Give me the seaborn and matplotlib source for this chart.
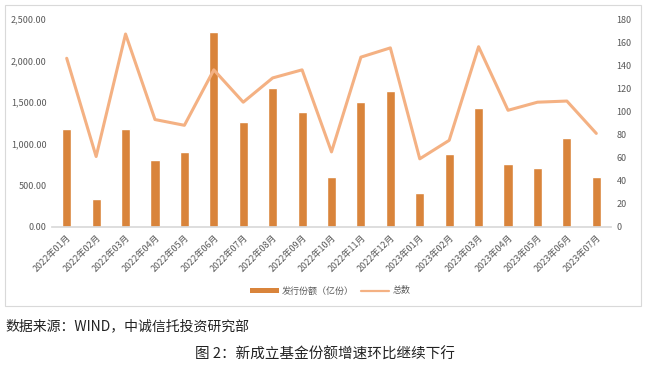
import numpy as np
import pandas as pd
import matplotlib
matplotlib.use("Agg")
import matplotlib.pyplot as plt
import seaborn as sns
from matplotlib.patches import Rectangle, Patch
from matplotlib.lines import Line2D

months = ["2022年01月", "2022年02月", "2022年03月", "2022年04月", "2022年05月",
          "2022年06月", "2022年07月", "2022年08月", "2022年09月", "2022年10月",
          "2022年11月", "2022年12月", "2023年01月", "2023年02月", "2023年03月",
          "2023年04月", "2023年05月", "2023年06月", "2023年07月"]
shares = [1178, 331, 1176, 804, 907, 2344, 1260, 1676, 1388, 604,
          1500, 1640, 408, 880, 1436, 760, 715, 1072, 604]
counts = [146, 61, 167, 93, 88, 136, 108, 129, 136, 65,
          147, 155, 59, 75, 156, 101, 108, 109, 81]

bar_color = "#D9843B"
line_color = "#F4B183"
tick_color = "#595959"

sns.set_theme(style="white")
plt.rcParams['font.family'] = ['Noto Sans CJK SC', 'DejaVu Sans']

df = pd.DataFrame({"month": months, "shares": shares, "counts": counts})

fig = plt.figure(figsize=(6.47, 3.67), dpi=100)
# light frame around the chart area
fig.patches.append(Rectangle((5 / 647, 1 - 306 / 367), 636 / 647, 301 / 367,
                             transform=fig.transFigure, fill=False,
                             edgecolor="#D9D9D9", linewidth=0.8))

ax = fig.add_axes([52 / 647, 1 - 227 / 367, 559 / 647, 208 / 367])
sns.barplot(data=df, x="month", y="shares", color=bar_color, width=0.31,
            saturation=1, ax=ax)
ax.set_ylim(0, 2500)
ax.set_yticks(np.arange(0, 2501, 500))
ax.set_yticklabels([f"{v:,.2f}" for v in np.arange(0, 2501, 500)])
ax.set_xlim(-0.5, len(months) - 0.5)
ax.set_xlabel("")
ax.set_ylabel("")

ax2 = ax.twinx()
sns.lineplot(data=df, x="month", y="counts", color=line_color, linewidth=2.2,
             sort=False, ax=ax2)
ax2.set_ylim(0, 180)
ax2.set_yticks(np.arange(0, 181, 20))
ax2.set_ylabel("")
ax2.set_xlim(-0.5, len(months) - 0.5)

for a in (ax, ax2):
    for s in a.spines.values():
        s.set_visible(False)
    a.tick_params(length=0, labelsize=6.5, colors=tick_color, pad=4)
ax.spines["bottom"].set_visible(True)
ax.spines["bottom"].set_color("#D9D9D9")

plt.setp(ax.get_xticklabels(), rotation=45, ha="right", rotation_mode="anchor")

handles = [Patch(facecolor=bar_color, edgecolor="none"),
           Line2D([], [], color=line_color, linewidth=1.6)]
fig.legend(handles, ["发行份额（亿份）", "总数"], loc="center",
           bbox_to_anchor=(330 / 647, 1 - 291 / 367),
           ncol=2, frameon=False, fontsize=6.5, handlelength=3.2, handleheight=0.55,
           columnspacing=0.8, handletextpad=0.3, labelcolor=tick_color)

fig.text(5 / 647, 1 - 326 / 367, "数据来源：WIND，中诚信托投资研究部",
         fontsize=10, va="center", ha="left", color="#222222")
fig.text(325 / 647, 1 - 355 / 367, "图 2：新成立基金份额增速环比继续下行",
         fontsize=10.5, va="center", ha="center", color="#222222")

fig.savefig("out.png", dpi=100)
